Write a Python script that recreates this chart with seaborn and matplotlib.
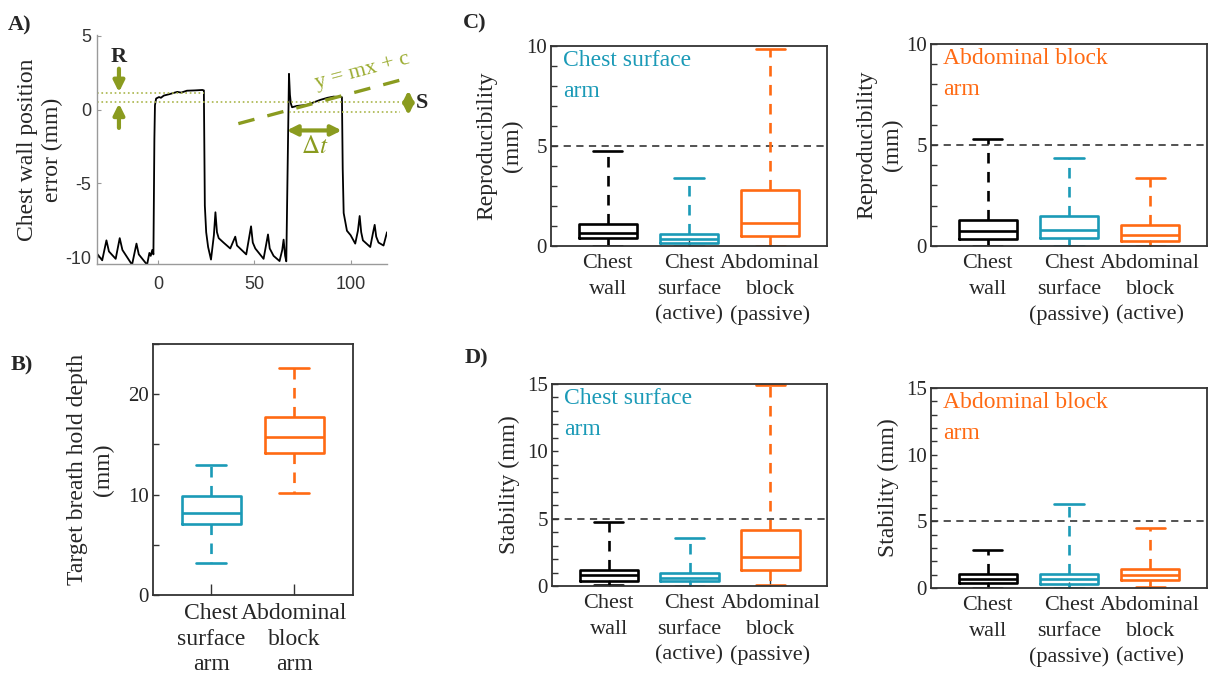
import numpy as np
import pandas as pd
import matplotlib
matplotlib.use("Agg")
import matplotlib.pyplot as plt
import seaborn as sns
from matplotlib.ticker import MultipleLocator

sns.set_theme(style="white")
plt.rcParams["font.family"] = ["Liberation Serif", "DejaVu Serif"]
plt.rcParams["mathtext.fontset"] = "stix"
plt.rcParams["axes.unicode_minus"] = False

# ---------------- data ----------------
trace_t = [-31.7, -29, -26.8, -25.5, -22, -19.9, -18.5, -13.5, -11.2, -10, -5.7, -4.5, -3.8, -3.0, -2.4,
           -1.9, -1.6, -1.0, 0.5, 1.5, 3, 6, 10, 12, 15, 19, 23, 23.8, 24.3, 25.0, 26, 27.5, 29.0, 29.8,
           30.6, 31.5, 34, 37.5, 40.1, 41, 45.8, 48.3, 49.2, 50.5, 54.8, 57.1, 58, 60, 63.1, 64.5, 65.2,
           66.0, 66.6, 67.4, 68.0, 68.5, 69.0, 69.6, 72.1, 77.3, 80, 84.3, 88, 91.2, 95.5, 95.9, 96.4,
           98.1, 100, 102.4, 103.8, 104.7, 105.5, 106.4, 110.2, 111.7, 112.5, 113.3, 114.5, 117.1, 118.9]
trace_v = [-9.75, -10.2, -8.85, -9.6, -10.1, -8.7, -9.5, -10.5, -9.07, -9.8, -10.5, -9.7, -9.9, -9.5, -9.8,
           -2.0, 0.3, 0.75, 0.85, 0.8, 0.95, 1.05, 1.2, 1.15, 1.28, 1.3, 1.33, 1.3, -6.5, -8.3, -9.3, -10.15,
           -8.5, -6.95, -8.3, -8.7, -9.0, -9.4, -8.6, -9.2, -9.8, -7.9, -9.0, -9.4, -10.1, -8.45, -9.4, -9.9,
           -10.25, -9.5, -8.8, -9.9, -10.27, -3.0, 2.42, 1.0, 0.4, 0.16, 0.25, 0.32, 0.45, 0.66, 0.8, 0.88,
           0.84, -4.0, -7.0, -8.2, -8.5, -9.07, -8.2, -7.2, -8.3, -8.85, -9.3, -8.3, -7.8, -8.6, -9.0, -9.2, -8.3]

# five-number summaries: [lower whisker, Q1, median, Q3, upper whisker]
b_labels = ["Chest\nsurface\narm", "Abdominal\nblock\narm"]
b_chest_surface = [3.2, 7.05, 8.2, 9.9, 12.9]
b_abdominal_block = [10.2, 14.1, 15.7, 17.7, 22.6]

left_labels = ["Chest\nwall", "Chest\nsurface\n(active)", "Abdominal\nblock\n(passive)"]
right_labels = ["Chest\nwall", "Chest\nsurface\n(passive)", "Abdominal\nblock\n(active)"]

c_left_wall = [0.0, 0.38, 0.63, 1.08, 4.75]
c_left_surface = [0.0, 0.13, 0.33, 0.58, 3.38]
c_left_block = [0.0, 0.52, 1.15, 2.78, 9.85]
c_right_wall = [0.0, 0.33, 0.73, 1.27, 5.28]
c_right_surface = [0.0, 0.38, 0.80, 1.50, 4.35]
c_right_block = [0.0, 0.25, 0.53, 1.05, 3.38]

d_left_wall = [0.05, 0.40, 0.80, 1.20, 4.75]
d_left_surface = [0.0, 0.35, 0.62, 0.97, 3.53]
d_left_block = [0.07, 1.19, 2.19, 4.13, 14.95]
d_right_wall = [0.03, 0.38, 0.68, 1.04, 2.88]
d_right_surface = [0.03, 0.33, 0.68, 1.04, 6.31]
d_right_block = [0.08, 0.58, 1.01, 1.41, 4.47]

BLACK = "#000000"
CYAN = "#1b9ab7"
ORANGE = "#ff6a13"
GREEN = "#8a9b1f"
LGREEN = "#a9b54a"

W, H = 1211, 680
fig = plt.figure(figsize=(W / 100, H / 100), dpi=100)


def px_axes(l, r, t, b):
    return fig.add_axes([l / W, 1 - b / H, (r - l) / W, (b - t) / H])


# ---------------- panel A ----------------
axA = px_axes(97, 387, 35, 264)
sns.lineplot(x=trace_t, y=trace_v, sort=False, color="black", lw=1.3, ax=axA, estimator=None)
axA.set_xlim(-31.7, 118.9)
axA.set_ylim(-10.45, 5.05)
axA.set_xticks([0, 50, 100])
axA.set_yticks([-10, -5, 0, 5])
for s in ["top", "right"]:
    axA.spines[s].set_visible(False)
for s in ["left", "bottom"]:
    axA.spines[s].set_color("#9a9a9a")
    axA.spines[s].set_linewidth(1.0)
axA.tick_params(direction="in", length=3, width=0.8, color="#9a9a9a", labelsize=13,
                labelcolor="#333333", left=True, bottom=True)
axA.tick_params(axis="x", pad=9)
axA.tick_params(axis="y", pad=4)
for lab in axA.get_xticklabels() + axA.get_yticklabels():
    lab.set_family("Liberation Sans")
axA.set_ylabel("Chest wall position\nerror (mm)", fontsize=17, labelpad=2, linespacing=1.2)

# annotations
axA.plot([-31.7, 24], [1.12, 1.12], ls=":", color=LGREEN, lw=1.2, clip_on=False)
axA.plot([-31.7, 125.6], [0.49, 0.49], ls=":", color=LGREEN, lw=1.2, clip_on=False)
axA.plot([68, 125.6], [-0.17, -0.17], ls=":", color=LGREEN, lw=1.2, clip_on=False)
axA.plot([41.7, 125.6], [-0.95, 1.99], ls=(0, (5, 4)), color=GREEN, lw=2.4, clip_on=False)
axA.text(106, 2.6, "y = mx + c", rotation=15, color="#9aab2e", fontsize=16,
         ha="center", va="center")
arrow = dict(arrowstyle="-|>", color=GREEN, lw=3, mutation_scale=16, shrinkA=0, shrinkB=0)
darrow = dict(arrowstyle="<|-|>", color=GREEN, lw=3, mutation_scale=15, shrinkA=0, shrinkB=0)
axA.annotate("", xy=(-20.3, 1.18), xytext=(-20.3, 2.77), arrowprops=arrow)
axA.annotate("", xy=(-20.3, 0.41), xytext=(-20.3, -1.24), arrowprops=arrow)
axA.text(-20.3, 3.55, "R", fontsize=16, fontweight="bold", ha="center", va="center")
axA.annotate("", xy=(66.8, -1.41), xytext=(95.4, -1.41), arrowprops=darrow)
axA.text(81.5, -2.55, r"$\Delta t$", color=GREEN, fontsize=18, ha="center", va="center")
axA.annotate("", xy=(130, 1.3), xytext=(130, -0.38), arrowprops=darrow, annotation_clip=False)
axA.text(137, 0.45, "S", fontsize=16, fontweight="bold", ha="center", va="center", clip_on=False)


# ---------------- box helper ----------------
def draw_box(ax, labels, series, colors, ylim, major, minor, ylabel, note=None, note_color=None,
             refline=None, xlim=(-0.7, 2.7), width=0.72, labelpad=2, xls=1.45):
    df = pd.DataFrame({
        "group": np.repeat(labels, [len(s) for s in series]),
        "value": np.concatenate(series),
    })
    sns.boxplot(data=df, x="group", y="value", hue="group", order=labels, hue_order=labels,
                palette=colors, fill=False, whis=(0, 100), width=width, linewidth=1.9,
                legend=False, showfliers=False, ax=ax,
                whiskerprops=dict(linestyle=(0, (4, 3.2))))
    if refline is not None:
        ax.axhline(refline, color="#444444", ls=(0, (4, 3)), lw=1.3, zorder=0.5)
    ax.set_xlim(*xlim)
    ax.set_ylim(*ylim)
    ax.yaxis.set_major_locator(MultipleLocator(major))
    ax.yaxis.set_minor_locator(MultipleLocator(minor))
    ax.tick_params(axis="both", which="both", direction="in", length=4, width=1.0, color="#333333",
                   left=True, bottom=True)
    ax.tick_params(axis="y", labelsize=15, pad=3)
    ax.tick_params(axis="x", labelsize=16, pad=6)
    for s in ax.spines.values():
        s.set_visible(True)
        s.set_color("#333333")
        s.set_linewidth(1.3)
    ax.set_xlabel("")
    ax.set_ylabel(ylabel, fontsize=17, labelpad=labelpad, linespacing=1.3)
    for lab in ax.get_xticklabels():
        lab.set_linespacing(xls)
    if note:
        ax.text(0.045, 0.98, note, transform=ax.transAxes, va="top", ha="left",
                fontsize=17, color=note_color, linespacing=1.6)


# ---------------- panel B ----------------
axB = px_axes(153, 353, 344, 595)
draw_box(axB, b_labels, [b_chest_surface, b_abdominal_block], [CYAN, ORANGE], (0, 25), 10, 5,
         "Target breath hold depth\n(mm)", xlim=(-0.70, 1.71), width=0.71, labelpad=10, xls=1.28)
axB.tick_params(axis="x", length=8, pad=6, labelsize=17)

# ---------------- panel C ----------------
axC1 = px_axes(551, 827, 46, 246)
draw_box(axC1, left_labels, [c_left_wall, c_left_surface, c_left_block], [BLACK, CYAN, ORANGE],
         (0, 10), 5, 1, "Reproducibility\n(mm)", note="Chest surface\narm", note_color=CYAN, refline=5)
axC2 = px_axes(931, 1207, 44, 246)
draw_box(axC2, right_labels, [c_right_wall, c_right_surface, c_right_block], [BLACK, CYAN, ORANGE],
         (0, 10), 5, 1, "Reproducibility\n(mm)", note="Abdominal block\narm", note_color=ORANGE, refline=5)

# ---------------- panel D ----------------
axD1 = px_axes(552, 827, 384, 586)
draw_box(axD1, left_labels, [d_left_wall, d_left_surface, d_left_block], [BLACK, CYAN, ORANGE],
         (0, 15), 5, 1, "Stability (mm)", note="Chest surface\narm", note_color=CYAN, refline=5,
         labelpad=5)
axD2 = px_axes(931, 1207, 388, 588)
draw_box(axD2, right_labels, [d_right_wall, d_right_surface, d_right_block], [BLACK, CYAN, ORANGE],
         (0, 15), 5, 1, "Stability (mm)", note="Abdominal block\narm", note_color=ORANGE, refline=5,
         labelpad=5)

# ---------------- panel letters ----------------
for txt, x, y in [("A)", 8, 25), ("B)", 11, 365), ("C)", 463, 23), ("D)", 465, 358)]:
    fig.text(x / W, 1 - y / H, txt, fontsize=16, fontweight="bold", ha="left", va="center")

fig.savefig("out.png", dpi=100)
